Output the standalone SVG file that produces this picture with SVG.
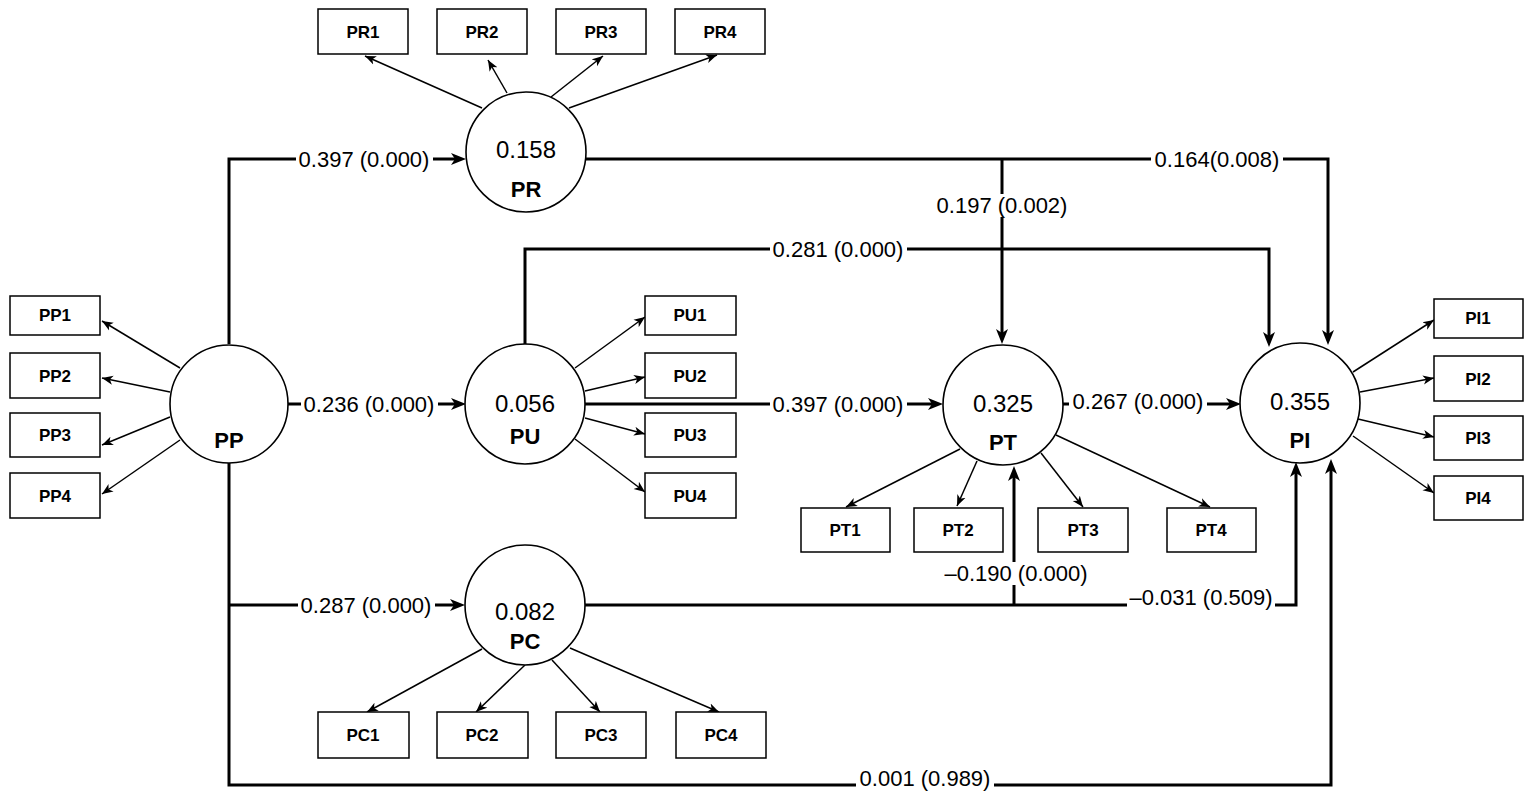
<svg xmlns="http://www.w3.org/2000/svg" width="1533" height="802" viewBox="0 0 1533 802">
<style>
.lv{fill:#fff;stroke:#000;stroke-width:1.6}
.bx{fill:#fff;stroke:#000;stroke-width:1.5}
.ind{fill:none;stroke:#000;stroke-width:1.5;marker-end:url(#ta)}
.path{fill:none;stroke:#000;stroke-width:3;marker-end:url(#ba)}
.num{font-family:"Liberation Sans",Arial,sans-serif;font-size:24px;text-anchor:middle;fill:#000}
.nm{font-family:"Liberation Sans",Arial,sans-serif;font-size:22px;font-weight:bold;text-anchor:middle;fill:#000}
.bt{font-family:"Liberation Sans",Arial,sans-serif;font-size:17px;font-weight:bold;text-anchor:middle;fill:#000}
.lb{font-family:"Liberation Sans",Arial,sans-serif;font-size:22px;text-anchor:middle;fill:#000}
.bg{fill:#fff}
</style>
<defs>
<marker id="ba" markerUnits="userSpaceOnUse" markerWidth="16" markerHeight="14" refX="7" refY="7" orient="auto">
<path d="M0,1 L15,7 L0,13 L4,7 z" fill="#000"/>
</marker>
<marker id="ta" markerUnits="userSpaceOnUse" markerWidth="12" markerHeight="10" refX="11" refY="5" orient="auto">
<path d="M0,0.5 L11,5 L0,9.5 L3,5 z" fill="#000"/>
</marker>
</defs>
<rect width="1533" height="802" fill="#fff"/>

<g id="connectors">
<path class="path" d="M229,344 V159 H458"/>
<path class="path" d="M288,404 H458"/>
<path class="path" d="M229,463 V785 H1331 V467"/>
<path class="path" d="M229,605 H457"/>
<path class="path" d="M586,159 H1328 V337"/>
<path class="path" d="M1002,159 V336"/>
<path class="path" d="M525,345 V249 H1269 V339"/>
<path class="path" d="M585,404 H935"/>
<path class="path" d="M1063,404 H1233"/>
<path class="path" d="M585,605 H1296 V470"/>
<path class="path" d="M1014,605 V474"/>
<path class="ind" d="M482,108 L365,56"/>
<path class="ind" d="M507,93 L488,60"/>
<path class="ind" d="M551,97 L603,56"/>
<path class="ind" d="M569,108 L717,55"/>
<path class="ind" d="M180,368 L102,321"/>
<path class="ind" d="M170,392 L102,378"/>
<path class="ind" d="M170,417 L102,445"/>
<path class="ind" d="M180,440 L102,494"/>
<path class="ind" d="M575,368 L645,317"/>
<path class="ind" d="M585,391 L645,377"/>
<path class="ind" d="M585,418 L645,434"/>
<path class="ind" d="M575,439 L645,492"/>
<path class="ind" d="M960,449 L846,507"/>
<path class="ind" d="M977,461 L957,506"/>
<path class="ind" d="M1041,453 L1083,507"/>
<path class="ind" d="M1056,435 L1210,507"/>
<path class="ind" d="M1353,372 L1434,320"/>
<path class="ind" d="M1360,392 L1434,378"/>
<path class="ind" d="M1358,419 L1434,437"/>
<path class="ind" d="M1353,436 L1434,493"/>
<path class="ind" d="M482,649 L367,712"/>
<path class="ind" d="M525,665 L476,712"/>
<path class="ind" d="M552,660 L600,712"/>
<path class="ind" d="M570,648 L719,712"/>
</g>

<g id="labels">
<rect class="bg" x="296" y="148" width="137" height="23"/><text class="lb" x="364" y="167">0.397 (0.000)</text>
<rect class="bg" x="301" y="393" width="137" height="23"/><text class="lb" x="369" y="412">0.236 (0.000)</text>
<rect class="bg" x="298" y="594" width="137" height="23"/><text class="lb" x="366" y="613">0.287 (0.000)</text>
<rect class="bg" x="1151" y="148" width="132" height="23"/><text class="lb" x="1217" y="167">0.164(0.008)</text>
<rect class="bg" x="934" y="194" width="137" height="23"/><text class="lb" x="1002" y="213">0.197 (0.002)</text>
<rect class="bg" x="770" y="238" width="137" height="23"/><text class="lb" x="838" y="257">0.281 (0.000)</text>
<rect class="bg" x="770" y="393" width="137" height="23"/><text class="lb" x="838" y="412">0.397 (0.000)</text>
<rect class="bg" x="1069" y="390" width="138" height="23"/><text class="lb" x="1138" y="409">0.267 (0.000)</text>
<rect class="bg" x="942" y="562" width="148" height="23"/><text class="lb" x="1016" y="581">–0.190 (0.000)</text>
<rect class="bg" x="1127" y="586" width="148" height="23"/><text class="lb" x="1201" y="605">–0.031 (0.509)</text>
<rect class="bg" x="856" y="767" width="138" height="23"/><text class="lb" x="925" y="786">0.001 (0.989)</text>
</g>

<g id="PP"><circle class="lv" cx="229" cy="404" r="59"/><text class="nm" x="229" y="448">PP</text></g>
<g id="PR"><circle class="lv" cx="526" cy="152" r="60"/><text class="num" x="526" y="158">0.158</text><text class="nm" x="526" y="197">PR</text></g>
<g id="PU"><circle class="lv" cx="525" cy="404" r="60"/><text class="num" x="525" y="412">0.056</text><text class="nm" x="525" y="444">PU</text></g>
<g id="PT"><circle class="lv" cx="1003" cy="405" r="60"/><text class="num" x="1003" y="412">0.325</text><text class="nm" x="1003" y="450">PT</text></g>
<g id="PI"><circle class="lv" cx="1300" cy="403" r="60"/><text class="num" x="1300" y="410">0.355</text><text class="nm" x="1300" y="448">PI</text></g>
<g id="PC"><circle class="lv" cx="525" cy="605" r="60"/><text class="num" x="525" y="620">0.082</text><text class="nm" x="525" y="649">PC</text></g>

<g id="PR1"><rect class="bx" x="318" y="9" width="90" height="45"/><text class="bt" x="363" y="38">PR1</text></g>
<g id="PR2"><rect class="bx" x="437" y="9" width="90" height="45"/><text class="bt" x="482" y="38">PR2</text></g>
<g id="PR3"><rect class="bx" x="556" y="9" width="90" height="45"/><text class="bt" x="601" y="38">PR3</text></g>
<g id="PR4"><rect class="bx" x="675" y="9" width="90" height="45"/><text class="bt" x="720" y="38">PR4</text></g>

<g id="PP1"><rect class="bx" x="10" y="296" width="90" height="39"/><text class="bt" x="55" y="321">PP1</text></g>
<g id="PP2"><rect class="bx" x="10" y="353" width="90" height="45"/><text class="bt" x="55" y="382">PP2</text></g>
<g id="PP3"><rect class="bx" x="10" y="413" width="90" height="44"/><text class="bt" x="55" y="441">PP3</text></g>
<g id="PP4"><rect class="bx" x="10" y="473" width="90" height="45"/><text class="bt" x="55" y="502">PP4</text></g>

<g id="PU1"><rect class="bx" x="645" y="296" width="91" height="39"/><text class="bt" x="690" y="321">PU1</text></g>
<g id="PU2"><rect class="bx" x="645" y="353" width="91" height="45"/><text class="bt" x="690" y="382">PU2</text></g>
<g id="PU3"><rect class="bx" x="645" y="413" width="91" height="44"/><text class="bt" x="690" y="441">PU3</text></g>
<g id="PU4"><rect class="bx" x="645" y="473" width="91" height="45"/><text class="bt" x="690" y="502">PU4</text></g>

<g id="PT1"><rect class="bx" x="801" y="508" width="89" height="44"/><text class="bt" x="845" y="536">PT1</text></g>
<g id="PT2"><rect class="bx" x="914" y="508" width="89" height="44"/><text class="bt" x="958" y="536">PT2</text></g>
<g id="PT3"><rect class="bx" x="1038" y="508" width="90" height="44"/><text class="bt" x="1083" y="536">PT3</text></g>
<g id="PT4"><rect class="bx" x="1167" y="508" width="89" height="44"/><text class="bt" x="1211" y="536">PT4</text></g>

<g id="PI1"><rect class="bx" x="1434" y="299" width="89" height="39"/><text class="bt" x="1478" y="324">PI1</text></g>
<g id="PI2"><rect class="bx" x="1434" y="356" width="89" height="45"/><text class="bt" x="1478" y="385">PI2</text></g>
<g id="PI3"><rect class="bx" x="1434" y="416" width="89" height="44"/><text class="bt" x="1478" y="444">PI3</text></g>
<g id="PI4"><rect class="bx" x="1434" y="476" width="89" height="44"/><text class="bt" x="1478" y="504">PI4</text></g>

<g id="PC1"><rect class="bx" x="318" y="712" width="91" height="46"/><text class="bt" x="363" y="741">PC1</text></g>
<g id="PC2"><rect class="bx" x="437" y="712" width="91" height="46"/><text class="bt" x="482" y="741">PC2</text></g>
<g id="PC3"><rect class="bx" x="556" y="712" width="90" height="46"/><text class="bt" x="601" y="741">PC3</text></g>
<g id="PC4"><rect class="bx" x="676" y="712" width="90" height="46"/><text class="bt" x="721" y="741">PC4</text></g>
</svg>
